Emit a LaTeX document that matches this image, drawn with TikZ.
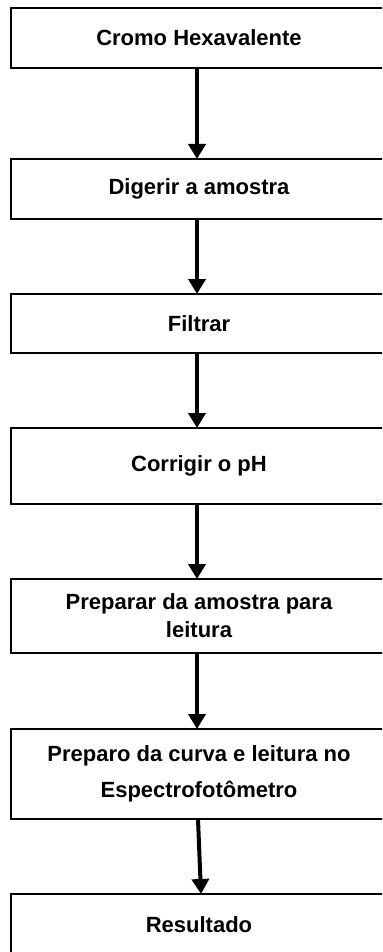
\documentclass[tikz,border=0pt]{standalone}
\usepackage{fontspec}
\setmainfont{Liberation Sans}
\usetikzlibrary{positioning}
\usetikzlibrary{arrows.meta}
\usetikzlibrary{calc}

\tikzset{
  stepbox/.style={draw=black, line width=1pt, outer sep=0pt, minimum width=188pt,
    align=center, font=\fontsize{11}{14}\selectfont\bfseries},
  flow/.style={line width=2pt, -{Triangle[width=8.5pt,length=7.5pt]}}
}

\begin{document}
\begin{tikzpicture}

\useasboundingbox (0,0) rectangle (191pt,-476pt);
\clip (0,0) rectangle (191pt,-476pt);

% Steps
\node[stepbox, minimum height=30pt] (cromo) at (99.5pt,-19pt) {Cromo Hexavalente};
\node[stepbox, minimum height=30pt, below=45.5pt of cromo] (digerir) {Digerir a amostra};
\node[stepbox, minimum height=29.5pt, below=37.5pt of digerir] (filtrar) {Filtrar};
\node[stepbox, minimum height=38pt, below=37.5pt of filtrar] (ph) {Corrigir o pH};
\node[stepbox, minimum height=37pt, below=37.5pt of ph] (preparar) {Preparar da amostra para\\leitura};
\node[stepbox, minimum height=45pt, below=38pt of preparar] (curva) {Preparo da curva e leitura no\\[4pt]Espectrofotômetro};
\node[stepbox, minimum height=31pt, below=37.5pt of curva] (resultado) {Resultado};

% Arrows
\draw[flow] ($(cromo.south)+(-1pt,0)$) -- ($(digerir.north)+(-1pt,0)$);
\draw[flow] ($(digerir.south)+(-1pt,0)$) -- ($(filtrar.north)+(-1pt,0)$);
\draw[flow] ($(filtrar.south)+(-1pt,0)$) -- ($(ph.north)+(-1pt,0)$);
\draw[flow] ($(ph.south)+(-1pt,0)$) -- ($(preparar.north)+(-1pt,0)$);
\draw[flow] ($(preparar.south)+(-1pt,0)$) -- ($(curva.north)+(-1pt,0)$);
\draw[flow] ($(curva.south)+(-0.5pt,0)$) -- ($(resultado.north)+(1pt,0)$);

\end{tikzpicture}
\end{document}
